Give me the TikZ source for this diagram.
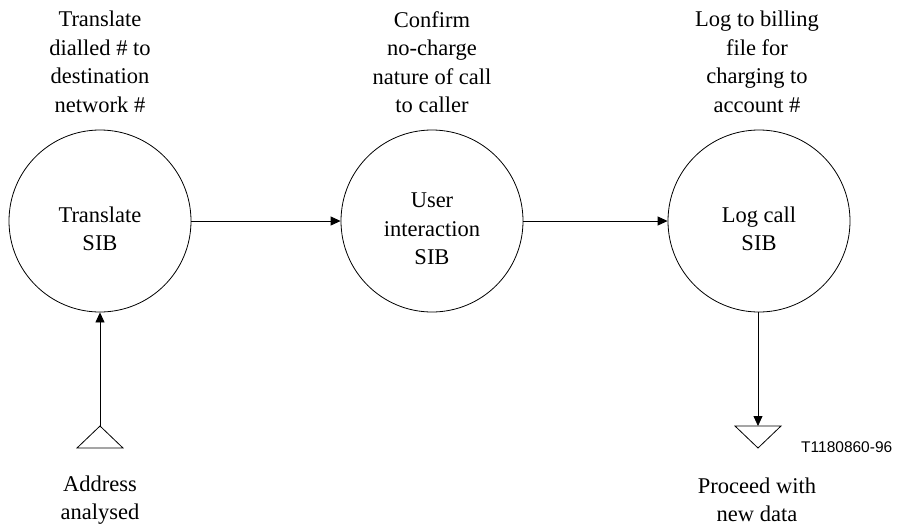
\documentclass[tikz,border=0pt]{standalone}
\usepackage{fontspec}
\setmainfont{Liberation Serif}
\newfontfamily\labelsans{Liberation Sans}
\usetikzlibrary{arrows.meta}
\begin{document}
\begin{tikzpicture}[x=1pt,y=-1pt,
  sib/.style={draw,circle,line width=0.8pt,minimum size=182pt,inner sep=0pt},
  txt/.style={align=center,inner sep=0pt,font=\fontsize{22.5}{28.5}\selectfont},
  arr/.style={line width=0.8pt,-{Triangle[length=10pt,width=9pt]}},
  tri/.style={line width=0.8pt,line join=miter}]
\useasboundingbox (0,0) rectangle (898,528);
% circles
\node[sib] (cA) at (100,221) {};
\node[sib] (cB) at (432,221) {};
\node[sib] (cC) at (759,221) {};
% circle texts
\node[txt] (tA) at (100,229) {Translate\\SIB};
\node[txt] (tB) at (432,229) {User\\interaction\\SIB};
\node[txt] (tC) at (759,229) {Log call\\SIB};
% top labels
\node[txt] (lA) at (100,62) {Translate\\dialled \# to\\destination\\network \#};
\node[txt] (lB) at (432,62) {Confirm\\no-charge\\nature of call\\to caller};
\node[txt] (lC) at (757,62) {Log to billing\\file for\\charging to\\account \#};
% bottom labels
\node[txt] (bA) at (100,500) {Address\\analysed};
\node[txt] (bC) at (757,500) {Proceed with\\new data};
\node[anchor=west,inner sep=0pt,font=\labelsans\fontsize{15.5}{18}\selectfont] (code) at (801,447) {T1180860-96};
% triangles
\coordinate (srcA) at (100,426);
\draw[tri] (77,448) -- (srcA) -- (123,448) -- cycle;
\coordinate (dstC) at (758,426);
\draw[tri] (735,426) -- (781,426) -- (758,448) -- cycle;
% connectors
\draw[arr] (cA) -- (cB);
\draw[arr] (cB) -- (cC);
\draw[arr] (srcA) -- (cA.south);
\draw[arr] (cC.south -| dstC) -- (dstC);
\end{tikzpicture}
\end{document}
